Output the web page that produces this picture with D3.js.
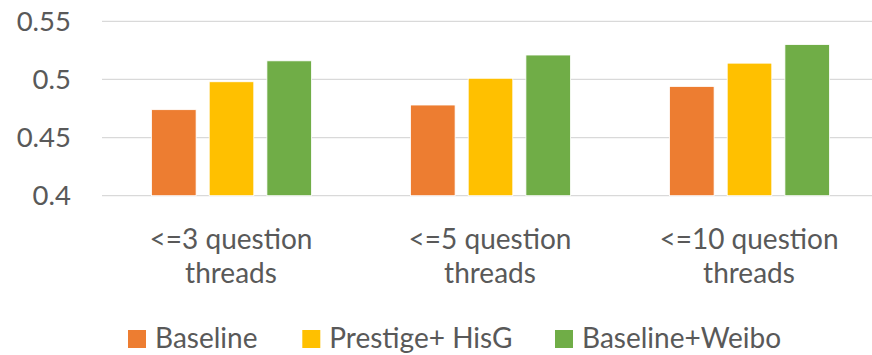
<!DOCTYPE html>
<html>
<head>
<meta charset="utf-8">
<script src="https://cdn.jsdelivr.net/npm/d3@7"></script>
<style>
  html, body { margin: 0; padding: 0; background: #fff; }
  svg { display: block; }
  text { font-family: Lato, "Open Sans", sans-serif; fill: #595959; }
</style>
</head>
<body>
<svg id="chart" width="872" height="355"></svg>
<script>
// ---- data ----
const categories = [["<=3 question", "threads"], ["<=5 question", "threads"], ["<=10 question", "threads"]];
const seriesNames = ["Baseline", "Prestige+ HisG", "Baseline+Weibo"];
const baseline = [0.474, 0.478, 0.494];
const prestigeHisG = [0.498, 0.501, 0.514];
const baselineWeibo = [0.516, 0.521, 0.530];
const yTicks = [0.4, 0.45, 0.5, 0.55];
const yTickLabels = ["0.4", "0.45", "0.5", "0.55"];
const colors = ["#ED7D31", "#FFC000", "#70AD47"];

const seriesValues = [baseline, prestigeHisG, baselineWeibo];

const svg = d3.select("#chart");
const catKeys = categories.map((c, i) => i);

const x0 = d3.scaleBand().domain(catKeys).range([102, 879]).paddingInner(0).paddingOuter(0);
const x1 = d3.scaleBand().domain(seriesNames).range([49.5, 209.5]).paddingInner(0.227).paddingOuter(0);
const y = d3.scaleLinear().domain([0.4, 0.55]).range([195.7, 21.3]);

// gridlines
svg.append("g").selectAll("line").data(yTicks).join("line")
  .attr("x1", 102).attr("x2", 872)
  .attr("y1", d => y(d)).attr("y2", d => y(d))
  .attr("stroke", "#D9D9D9").attr("stroke-width", 1.2);

// y axis labels
const yAxis = d3.axisLeft(y).tickValues(yTicks).tickFormat((d, i) => yTickLabels[i]).tickSize(0).tickPadding(0);
const ya = svg.append("g").attr("transform", "translate(71,0)").call(yAxis);
ya.select(".domain").remove();
ya.selectAll("text").attr("font-size", 27.5).attr("fill", "#595959")
  .style("font-family", "Lato, 'Open Sans', sans-serif");

// bars
const groups = svg.append("g").selectAll("g").data(catKeys).join("g")
  .attr("transform", d => `translate(${x0(d)},0)`);
groups.selectAll("rect")
  .data(ci => seriesNames.map((s, si) => ({ s, si, v: seriesValues[si][ci] })))
  .join("rect")
  .attr("x", d => x1(d.s))
  .attr("width", x1.bandwidth())
  .attr("y", d => y(d.v))
  .attr("height", d => y(0.4) - y(d.v))
  .attr("fill", d => colors[d.si])
  .attr("stroke", "#fff").attr("stroke-width", 0.8);

// category labels
const cl = svg.append("g").selectAll("text").data(catKeys).join("text")
  .attr("text-anchor", "middle")
  .attr("font-size", 28);
cl.selectAll("tspan").data(d => categories[d].map(t => ({ t, c: d }))).join("tspan")
  .attr("x", d => x0(d.c) + x0.bandwidth() / 2 - 0.5)
  .attr("y", (d, i) => 249.3 + i * 34)
  .text(d => d.t);

// legend
const legendX = [128, 302.3, 555];
const lg = svg.append("g").selectAll("g").data(seriesNames).join("g")
  .attr("transform", (d, i) => `translate(${legendX[i]},0)`);
lg.append("rect").attr("x", 0).attr("y", 330).attr("width", 18).attr("height", 18)
  .attr("fill", (d, i) => colors[i]);
lg.append("text").attr("x", 27).attr("y", 348.3).attr("font-size", 28).text(d => d);
</script>
</body>
</html>
